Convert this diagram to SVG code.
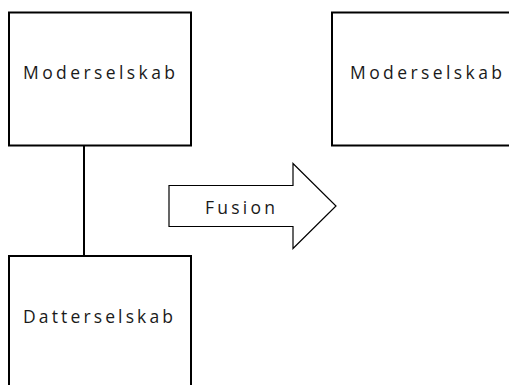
<svg xmlns="http://www.w3.org/2000/svg" width="509" height="385" viewBox="0 0 509 385">
  <style>
    .box { fill: #ffffff; stroke: #000000; stroke-width: 2; }
    .arrow { fill: #ffffff; stroke: #000000; stroke-width: 1.2; stroke-linejoin: miter; }
    .link { fill: none; stroke: #000000; stroke-width: 2; }
    .label { font-family: "Open Sans", "Noto Sans", "Liberation Sans", sans-serif; font-size: 17.5px; fill: #1a1a1a; }
  </style>
  <rect width="509" height="385" fill="#ffffff"/>
  <g id="connectors">
    <line class="link" x1="84" y1="145" x2="84" y2="256"/>
  </g>
  <g id="parent-before">
    <rect class="box" x="9" y="12.5" width="182" height="133"/>
    <text class="label" x="23" y="78.5" textLength="152" lengthAdjust="spacing">Moderselskab</text>
  </g>
  <g id="subsidiary">
    <rect class="box" x="9" y="256" width="182" height="140"/>
    <text class="label" x="23" y="323" textLength="150" lengthAdjust="spacing">Datterselskab</text>
  </g>
  <g id="merger-arrow">
    <polygon class="arrow" points="169,185.5 293,185.5 293,163.5 336,206 293,248.5 293,226.5 169,226.5"/>
    <text class="label" x="205" y="214" textLength="70" lengthAdjust="spacing">Fusion</text>
  </g>
  <g id="parent-after">
    <rect class="box" x="332" y="12.5" width="190" height="133"/>
    <text class="label" x="350" y="78.5" textLength="152" lengthAdjust="spacing">Moderselskab</text>
  </g>
</svg>
